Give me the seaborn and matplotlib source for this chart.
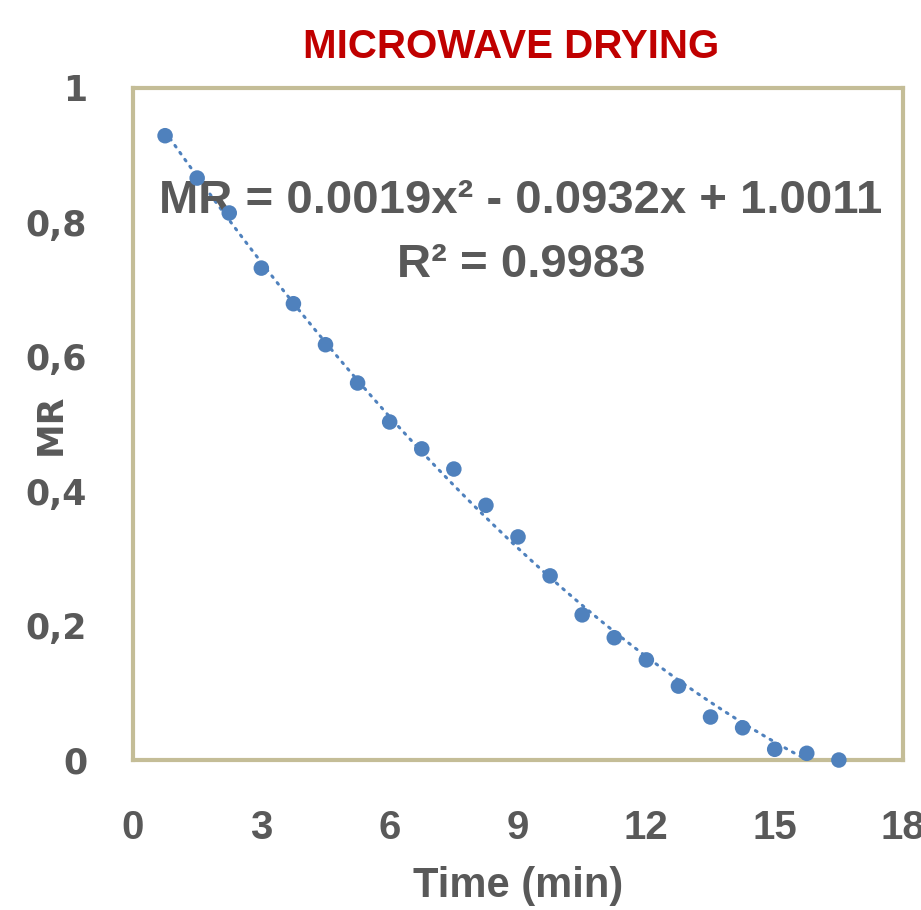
import numpy as np
import pandas as pd
import seaborn as sns
import matplotlib.pyplot as plt

# drying time (min) and moisture ratio
time_min = [0.75, 1.5, 2.25, 3.0, 3.75, 4.5, 5.25, 6.0, 6.75, 7.5, 8.25,
            9.0, 9.75, 10.5, 11.25, 12.0, 12.75, 13.5, 14.25, 15.0, 15.75, 16.5]
mr = [0.929, 0.866, 0.814, 0.732, 0.679, 0.618, 0.561, 0.503, 0.463, 0.433, 0.379,
      0.332, 0.274, 0.216, 0.182, 0.149, 0.110, 0.064, 0.048, 0.016, 0.010, 0.0]
x_ticks = [0, 3, 6, 9, 12, 15, 18]
y_ticks = [0, 0.2, 0.4, 0.6, 0.8, 1.0]
y_ticklabels = ['0', '0,2', '0,4', '0,6', '0,8', '1']

df = pd.DataFrame({'Time': time_min, 'MR': mr})

sns.set_style('white')
plt.rcParams['font.family'] = ['Liberation Sans', 'DejaVu Sans']

grey = '#595959'
blue = '#4F81BD'
frame = '#C4BD97'

fig = plt.figure(figsize=(9.21, 9.10), dpi=100)
ax = fig.add_axes([0.1444, 0.1648, 0.8361, 0.7385])

# polynomial trendline (order 2), like Excel's
coef = np.polyfit(df['Time'], df['MR'], 2)
xs = np.linspace(df['Time'].min(), df['Time'].max(), 200)
trend = pd.DataFrame({'Time': xs, 'MR': np.polyval(coef, xs)})
sns.lineplot(data=trend, x='Time', y='MR', ax=ax, color=blue, lw=2.2,
             linestyle=(0, (0.6, 2.2)), dash_capstyle='round')

sns.scatterplot(data=df, x='Time', y='MR', ax=ax, color=blue, s=125,
                edgecolor='none', clip_on=False, zorder=5)

ax.set_xlim(0, 18)
ax.set_ylim(0, 1)
ax.set_xticks(x_ticks)
ax.set_yticks(y_ticks)
ax.set_xticklabels([str(t) for t in x_ticks], fontsize=29, fontweight='bold', color=grey)
ax.set_yticklabels(y_ticklabels, fontsize=25, fontweight='bold', color=grey,
                   family='DejaVu Sans')
ax.tick_params(axis='both', length=0)
ax.tick_params(axis='x', pad=35)
ax.tick_params(axis='y', pad=33)

for sp in ax.spines.values():
    sp.set_color(frame)
    sp.set_linewidth(3)

ax.set_xlabel('Time (min)', fontsize=30, fontweight='bold', color=grey, labelpad=14)
ax.set_ylabel('MR', fontsize=25, fontweight='bold', color=grey, family='DejaVu Sans')
ax.yaxis.set_label_coords(-0.085, 0.5)

fig.text(0.555, 0.9485, 'MICROWAVE DRYING', ha='center', va='center',
         fontsize=29, fontweight='bold', color='#C00000')

ax.text(0.504, 0.814, 'MR = 0.0019x² - 0.0932x + 1.0011', transform=ax.transAxes,
        ha='center', va='baseline', fontsize=34, fontweight='bold', color=grey)
ax.text(0.504, 0.719, 'R² = 0.9983', transform=ax.transAxes,
        ha='center', va='baseline', fontsize=34, fontweight='bold', color=grey)

fig.savefig('out.png', dpi=100)
